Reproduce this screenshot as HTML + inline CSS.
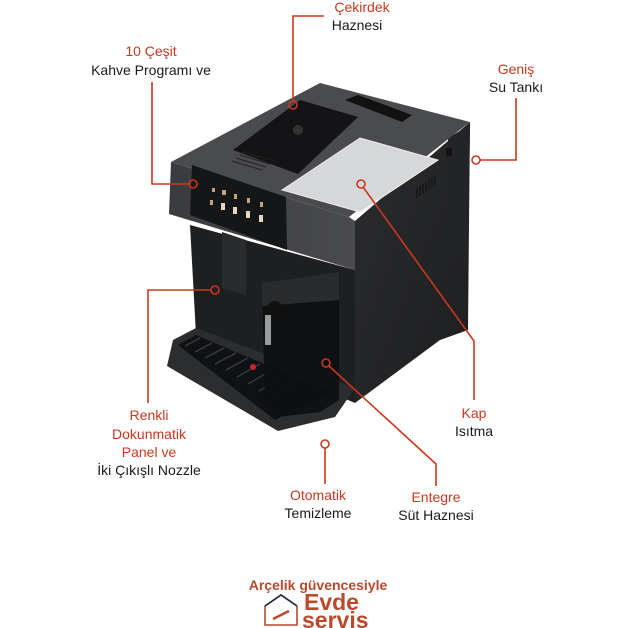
<!DOCTYPE html>
<html><head><meta charset="utf-8"><style>
html,body{margin:0;padding:0;background:#fff;}
svg{display:block;}
text{font-family:"Liberation Sans",sans-serif;}
</style></head><body>
<svg width="628" height="628" viewBox="0 0 628 628" xmlns="http://www.w3.org/2000/svg">
<defs>
<linearGradient id="side" x1="0" y1="0" x2="1" y2="1"><stop offset="0" stop-color="#2b2c2e"/><stop offset="1" stop-color="#1d1e20"/></linearGradient>
<linearGradient id="front" x1="0" y1="0" x2="1" y2="0"><stop offset="0" stop-color="#3a3b3e"/><stop offset="1" stop-color="#4a4b4e"/></linearGradient>
</defs>
<polygon points="355,221 470,122 468,330 440,340 355,403" fill="url(#side)"/>
<polygon points="448,138 470,125 468,248 448,262" fill="#232427"/>
<rect x="446" y="148" width="6" height="8" rx="2" fill="#111"/>
<g stroke="#111" stroke-width="1.2"><line x1="417" y1="198" x2="417" y2="188"/><line x1="420" y1="196" x2="420" y2="186"/><line x1="423" y1="194" x2="423" y2="184"/><line x1="426" y1="192" x2="426" y2="182"/><line x1="429" y1="190" x2="429" y2="180"/><line x1="432" y1="188" x2="432" y2="178"/><line x1="435" y1="186" x2="435" y2="176"/></g>
<polygon points="171,162 320,83 470,122 349,217" fill="#4a4b4e"/>
<polygon points="171,162 349,217 355,221 355,270 169,214" fill="url(#front)"/>
<polygon points="233,150 300,100 358,117 298,174" fill="#141416"/>
<circle cx="298" cy="130" r="5" fill="#333"/>
<polygon points="345,100 358,95 412,115 402,122" fill="#111"/>
<g stroke="#222" stroke-width="1"><line x1="232" y1="161" x2="262" y2="170"/><line x1="236" y1="158" x2="266" y2="167"/><line x1="240" y1="155" x2="270" y2="164"/><line x1="244" y1="152" x2="274" y2="161"/></g>
<polygon points="282,190 360,138 438,160 360,212" fill="#d6d7d8" stroke="#eee"/>
<polygon points="192,165 286,197 287,250 190,215" fill="#151617"/>
<g fill="#c9a27a"><rect x="212" y="188" width="3" height="4"/><rect x="222" y="190" width="4" height="5"/><rect x="234" y="194" width="3" height="5"/><rect x="247" y="198" width="3" height="5"/><rect x="260" y="202" width="3" height="5"/>
<rect x="210" y="200" width="3" height="5"/><rect x="221" y="203" width="4" height="7" fill="#e6d6bf"/><rect x="233" y="207" width="4" height="7" fill="#e6d6bf"/><rect x="246" y="211" width="4" height="7" fill="#e6d6bf"/><rect x="259" y="215" width="4" height="7" fill="#e6d6bf"/></g>
<polygon points="190,225 355,270 355,403 196,335" fill="#1e1f21"/>
<polygon points="222,232 246,240 246,295 222,288" fill="#2a2b2d"/>
<polygon points="173,340 196,328 355,388 335,417 278,431 167,366" fill="#2c2d2f"/>
<polygon points="178,345 196,335 330,392 275,420" fill="#101112"/>
<g stroke="#3a3b3d" stroke-width="1.3">
<line x1="185" y1="346" x2="200" y2="338"/><line x1="195" y1="352" x2="212" y2="343"/><line x1="205" y1="358" x2="224" y2="348"/><line x1="215" y1="364" x2="236" y2="353"/><line x1="226" y1="370" x2="248" y2="358"/><line x1="237" y1="377" x2="260" y2="364"/><line x1="248" y1="384" x2="272" y2="370"/><line x1="259" y1="391" x2="284" y2="376"/><line x1="270" y1="398" x2="296" y2="382"/></g>
<circle cx="253" cy="367" r="3" fill="#c23"/>
<polygon points="262,283 339,272 339,400 320,412 278,417 265,405" fill="#0f1011" opacity="0.95"/>
<polygon points="262,283 339,272 339,300 262,306" fill="#2a2b2d"/>
<circle cx="275" cy="308" r="7" fill="#111"/>
<rect x="265" y="315" width="6" height="30" fill="#9a9b9d"/>
<g stroke="#c9381f" stroke-width="1.6" fill="none">
<polyline points="324,16 293,16 293,101"/>
<circle cx="293" cy="105" r="4"/>
<polyline points="152,82 152,184 189,184"/>
<circle cx="193" cy="184" r="4"/>
<polyline points="516,98 516,160 480,160"/>
<circle cx="476" cy="160" r="4"/>
<polyline points="363,187 474,341 474,400"/>
<circle cx="361" cy="184" r="4"/>
<polyline points="211,290 148,290 148,403"/>
<circle cx="215" cy="290" r="4"/>
<polyline points="325,448 325,484"/>
<circle cx="325" cy="444" r="4"/>
<polyline points="329,366 436,464 436,486"/>
<circle cx="326" cy="363" r="4"/>
</g>
<g font-size="14" text-anchor="middle">
<text x="362" y="12" fill="#c9381f">Çekirdek</text>
<text x="357" y="30" fill="#1a1a1a">Haznesi</text>
<text x="151" y="56" fill="#c9381f">10 Çeşit</text>
<text x="151" y="75" fill="#1a1a1a">Kahve Programı ve</text>
<text x="516" y="74" fill="#c9381f">Geniş</text>
<text x="516" y="92" fill="#1a1a1a">Su Tankı</text>
<text x="474" y="418" fill="#c9381f">Kap</text>
<text x="474" y="436" fill="#1a1a1a">Isıtma</text>
<text x="149" y="420" fill="#c9381f">Renkli</text>
<text x="149" y="439" fill="#c9381f">Dokunmatik</text>
<text x="149" y="457" fill="#c9381f">Panel ve</text>
<text x="149" y="475" fill="#1a1a1a">İki Çıkışlı Nozzle</text>
<text x="318" y="500" fill="#c9381f">Otomatik</text>
<text x="318" y="518" fill="#1a1a1a">Temizleme</text>
<text x="436" y="502" fill="#c9381f">Entegre</text>
<text x="436" y="520" fill="#1a1a1a">Süt Haznesi</text>
</g>
<text x="318" y="590" font-size="14" font-weight="bold" fill="#b94a2c" text-anchor="middle">Arçelik güvencesiyle</text>
<text x="304" y="610" font-size="23" font-weight="bold" fill="#b94a2c">Evde</text>
<text x="302" y="628" font-size="23" font-weight="bold" fill="#b94a2c">servis</text>
<polygon points="265,606 281,595 297,606 297,625 265,625" fill="none" stroke="#b94a2c" stroke-width="1.6"/>
<polyline points="265,606 281,595 297,606" fill="none" stroke="#1a2a40" stroke-width="1.6"/>
<line x1="273" y1="619" x2="289" y2="611" stroke="#b94a2c" stroke-width="2.5"/>
</svg>
</body></html>
